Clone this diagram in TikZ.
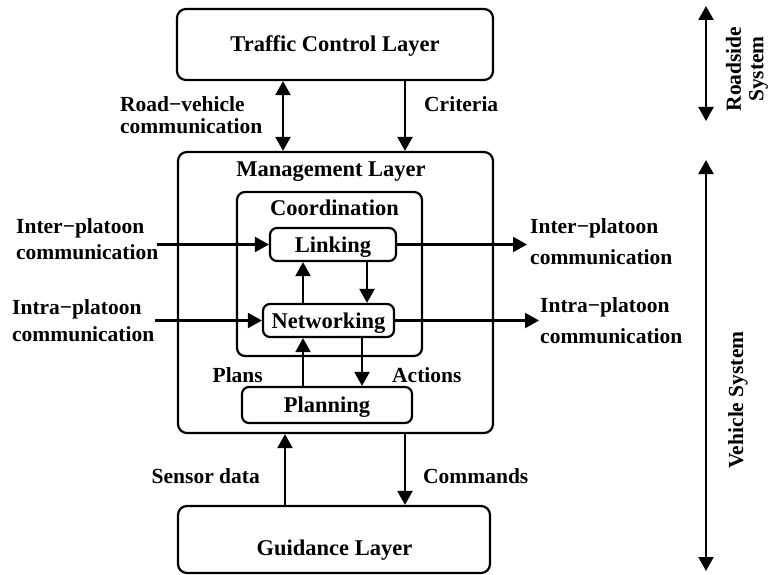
\documentclass[tikz,border=0pt]{standalone}
\usepackage{fontspec}
\setmainfont{Liberation Serif}
\usetikzlibrary{arrows.meta}
\begin{document}
\begin{tikzpicture}[x=1pt,y=-1pt,
  every node/.style={font=\fontsize{22.5}{26}\selectfont\bfseries, inner sep=0pt},
  layer/.style={draw, line width=2.2pt, rounded corners=9pt},
  block/.style={draw, line width=2.2pt, rounded corners=7pt, text height=15pt, text depth=0pt},
  lbl/.style={font=\fontsize{21.5}{26}\selectfont\bfseries},
  flow/.style={line width=2.2pt, -{Triangle[length=14pt,width=15pt]}},
  dflow/.style={line width=2.2pt, {Triangle[length=14pt,width=15pt]}-{Triangle[length=14pt,width=15pt]}},
]
\useasboundingbox (0,0) rectangle (768,575);

% layers and blocks
\node[layer, minimum width=316pt, minimum height=71pt, text height=15pt, text depth=0pt] (tcl) at (335,44.5) {Traffic Control Layer};
\node[layer, minimum width=315pt, minimum height=281pt] (mgmt) at (335.5,292.5) {};
\node[anchor=base] (mgmtT) at (331,176) {Management Layer};
\node[layer, rounded corners=8pt, minimum width=185pt, minimum height=164pt] (coord) at (329.5,274) {};
\node[anchor=base] (coordT) at (334.5,215) {Coordination};
\node[block, minimum width=126pt, minimum height=33pt] (link) at (333,244.5) {Linking};
\node[block, minimum width=131pt, minimum height=33pt] (net) at (328.5,320.5) {Networking};
\node[block, minimum width=170pt, minimum height=36pt] (plan) at (327,405) {Planning};
\node[layer, minimum width=312pt, minimum height=67pt] (guide) at (334,539.5) {};
\node[anchor=base] (guideT) at (334.5,555) {Guidance Layer};

% roadside <-> management
\draw[dflow] ([xshift=-52pt]tcl.south) -- ([xshift=-52pt]tcl.south |- mgmt.north);
\draw[flow] ([xshift=70pt]tcl.south) -- ([xshift=70pt]tcl.south |- mgmt.north);
\node[lbl, anchor=base west] (rv1) at (120,112) {Road−vehicle};
\node[lbl, anchor=base west] (rv2) at (120,133) {communication};
\node[lbl, anchor=base west] (crit) at (424,112) {Criteria};

% inside coordination
\draw[flow] ([xshift=-25.5pt]net.north) -- ([xshift=-25.5pt]net.north |- link.south);
\draw[flow] ([xshift=34pt]link.south) -- ([xshift=34pt]link.south |- net.north);

% planning <-> networking
\draw[flow] ([xshift=-24pt]plan.north) -- ([xshift=-24pt]plan.north |- net.south);
\draw[flow] ([xshift=35pt]plan.north |- net.south) -- ([xshift=35pt]plan.north);
\node[lbl, anchor=base east] (plans) at (263,382) {Plans};
\node[lbl, anchor=base west] (acts) at (392,382) {Actions};

% platoon communication
\coordinate (interIn) at (157,244.5);
\coordinate (interOut) at (527,244.5);
\coordinate (intraIn) at (155,320.5);
\coordinate (intraOut) at (539,320.5);
\draw[flow] (interIn) -- (link.west);
\draw[flow] (link.east) -- (interOut);
\draw[flow] (intraIn) -- (net.west);
\draw[flow] (net.east) -- (intraOut);
\node[lbl, anchor=base west] (li1) at (16,233) {Inter−platoon};
\node[lbl, anchor=base west] (li2) at (16,259) {communication};
\node[lbl, anchor=base west] (la1) at (12,314) {Intra−platoon};
\node[lbl, anchor=base west] (la2) at (12,341) {communication};
\node[lbl, anchor=base west] (ri1) at (530,233) {Inter−platoon};
\node[lbl, anchor=base west] (ri2) at (530,264) {communication};
\node[lbl, anchor=base west] (ra1) at (540,312) {Intra−platoon};
\node[lbl, anchor=base west] (ra2) at (540,343) {communication};

% management <-> guidance
\draw[flow] ([xshift=-49pt]guide.north) -- ([xshift=-49pt]guide.north |- mgmt.south);
\draw[flow] ([xshift=69.5pt]mgmt.south) -- ([xshift=69.5pt]mgmt.south |- guide.north);
\node[lbl, anchor=base east] (sens) at (260,483) {Sensor data};
\node[lbl, anchor=base west] (cmds) at (423,483) {Commands};

% system extents
\coordinate (rsTop) at (706,6);
\coordinate (rsBot) at (706,121);
\coordinate (vsTop) at (706,160);
\coordinate (vsBot) at (706,571);
\draw[dflow] (rsTop) -- (rsBot);
\draw[dflow] (vsTop) -- (vsBot);
\node[lbl, rotate=90, align=center, font=\fontsize{21.5}{22.5}\selectfont\bfseries] (rs) at (747,69) {Roadside\\System};
\node[lbl, rotate=90] (vs) at (738,400) {Vehicle System};
\end{tikzpicture}
\end{document}
